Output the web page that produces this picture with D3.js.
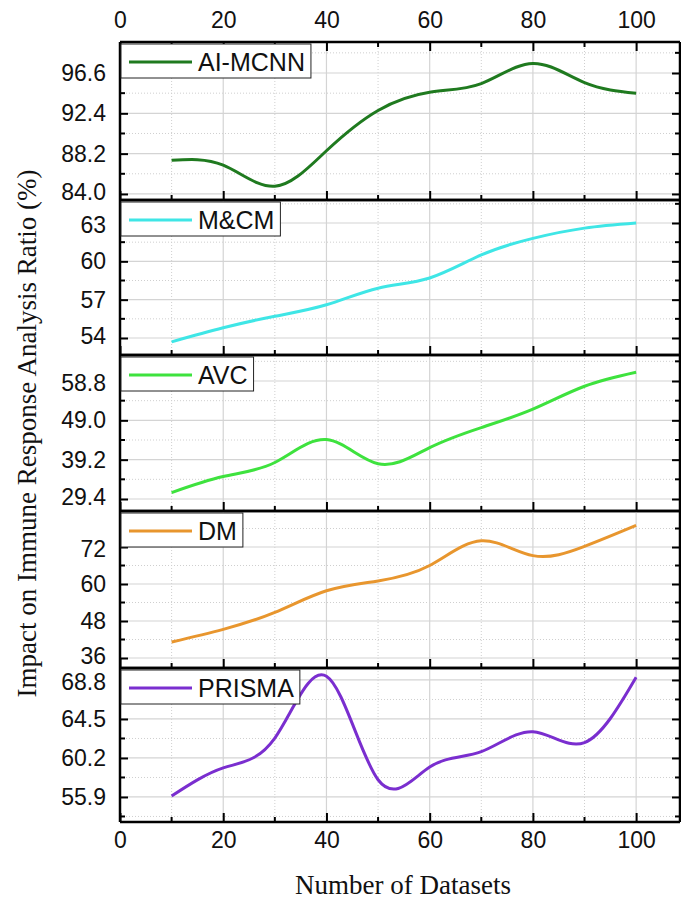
<!DOCTYPE html>
<html>
<head>
<meta charset="utf-8">
<script src="https://cdn.jsdelivr.net/npm/d3@7"></script>
<style>
  body { margin: 0; background: #fff; }
  svg { display: block; }
</style>
</head>
<body>
<svg id="chart" width="681" height="902"></svg>
<script>
// ---- Data ----
const xValues = [10, 20, 30, 40, 50, 60, 70, 80, 90, 100];
const seriesNames = ["AI-MCNN", "M&CM", "AVC", "DM", "PRISMA"];
const aiMcnn = [87.5, 87.0, 84.8, 88.5, 92.7, 94.6, 95.5, 97.6, 95.6, 94.5];
const mcm    = [53.7, 54.8, 55.7, 56.6, 57.9, 58.7, 60.5, 61.8, 62.6, 63.0];
const avc    = [31.0, 35.0, 38.5, 44.2, 38.2, 42.2, 47.2, 51.8, 57.5, 61.0];
const dm     = [41.2, 45.3, 50.8, 57.8, 61.0, 66.0, 74.0, 69.2, 72.2, 79.0];
const prisma = [56.0, 59.1, 62.4, 69.2, 57.8, 59.2, 60.9, 63.1, 61.9, 69.1];
const seriesValues = [aiMcnn, mcm, avc, dm, prisma];
const seriesColors = ["#1f7a1f", "#3fe6e6", "#3ee23e", "#e8962e", "#7a2ecf"];

const xTicks = [0, 20, 40, 60, 80, 100];
const xMinorTicks = [10, 30, 50, 70, 90];
const yTicks = [
  [84.0, 88.2, 92.4, 96.6],
  [54, 57, 60, 63],
  [29.4, 39.2, 49.0, 58.8],
  [36, 48, 60, 72],
  [55.9, 60.2, 64.5, 68.8]
];
const yTickLabels = [
  ["84.0", "88.2", "92.4", "96.6"],
  ["54", "57", "60", "63"],
  ["29.4", "39.2", "49.0", "58.8"],
  ["36", "48", "60", "72"],
  ["55.9", "60.2", "64.5", "68.8"]
];
const yMinorTicks = [
  [86.1, 90.3, 94.5, 98.7],
  [55.5, 58.5, 61.5, 64.5],
  [34.3, 44.1, 53.9, 63.7],
  [42, 54, 66, 78],
  [53.75, 58.05, 62.35, 66.65]
];
const yDomains = [
  [83.37, 99.83],
  [52.67, 64.8],
  [26.41, 65.28],
  [32.76, 83.68],
  [53.14, 70.12]
];
const xTitle = "Number of Datasets";
const yTitle = "Impact on Immune Response Analysis Ratio (%)";

// ---- Layout ----
const svg = d3.select("#chart");
const plotLeft = 120, plotRight = 680;
const panelEdges = [42, 200, 355, 511, 668, 822];
const x = d3.scaleLinear().domain([0, 108.5]).range([plotLeft, plotRight]);
const sansFont = "'Liberation Sans', Arial, sans-serif";
const serifFont = "'Liberation Serif', 'Times New Roman', serif";
const nPanels = seriesNames.length;

seriesNames.forEach((name, i) => {
  const y0 = panelEdges[i], y1 = panelEdges[i + 1];
  const y = d3.scaleLinear().domain(yDomains[i]).range([y1, y0]);
  const g = svg.append("g");
  const minors = yMinorTicks[i].filter(v => v > yDomains[i][0] && v < yDomains[i][1]);

  // minor grid (dotted)
  g.selectAll(".vminor").data(xMinorTicks).join("line")
    .attr("x1", d => x(d)).attr("x2", d => x(d)).attr("y1", y0).attr("y2", y1)
    .attr("stroke", "#cfcfcf").attr("stroke-width", 1).attr("stroke-dasharray", "1,2");
  g.selectAll(".hminor").data(minors).join("line")
    .attr("x1", plotLeft).attr("x2", plotRight).attr("y1", d => y(d)).attr("y2", d => y(d))
    .attr("stroke", "#cfcfcf").attr("stroke-width", 1).attr("stroke-dasharray", "1,2");
  // major grid
  g.selectAll(".vmajor").data(xTicks.filter(d => d > 0)).join("line")
    .attr("x1", d => x(d)).attr("x2", d => x(d)).attr("y1", y0).attr("y2", y1)
    .attr("stroke", "#d4d4d4").attr("stroke-width", 1.2);
  g.selectAll(".hmajor").data(yTicks[i]).join("line")
    .attr("x1", plotLeft).attr("x2", plotRight).attr("y1", d => y(d)).attr("y2", d => y(d))
    .attr("stroke", "#d4d4d4").attr("stroke-width", 1.2);

  // line
  const pts = xValues.map((xv, k) => [xv, seriesValues[i][k]]);
  g.append("path").datum(pts)
    .attr("fill", "none").attr("stroke", seriesColors[i]).attr("stroke-width", 3)
    .attr("d", d3.line().x(d => x(d[0])).y(d => y(d[1])).curve(d3.curveNatural));

  // left axis (inward ticks) with labels
  const yAxisL = d3.axisLeft(y).tickValues(yTicks[i]).tickFormat((d, k) => yTickLabels[i][k])
    .tickSize(-8).tickPadding(14);
  const axL = g.append("g").attr("transform", `translate(${plotLeft},0)`).call(yAxisL);
  axL.select(".domain").remove();
  axL.selectAll("line").attr("stroke", "#000").attr("stroke-width", 2);
  const labels = axL.selectAll("text").attr("font-family", sansFont).attr("font-size", 23).attr("fill", "#111");
  // nudge labels at panel joins apart so they do not collide
  const nL = yTicks[i].length;
  labels.each(function(d, k) {
    if (k === 0 && i < nPanels - 1) d3.select(this).attr("transform", "translate(0,-2)");
    if (k === nL - 1 && i > 0) d3.select(this).attr("transform", "translate(0,2)");
  });
  g.selectAll(".lminor").data(minors).join("line")
    .attr("x1", plotLeft).attr("x2", plotLeft + 5).attr("y1", d => y(d)).attr("y2", d => y(d))
    .attr("stroke", "#000").attr("stroke-width", 2);
  // right ticks
  const yAxisR = d3.axisRight(y).tickValues(yTicks[i]).tickSize(-8).tickFormat("");
  const axR = g.append("g").attr("transform", `translate(${plotRight},0)`).call(yAxisR);
  axR.select(".domain").remove();
  axR.selectAll("line").attr("stroke", "#000").attr("stroke-width", 2);
  g.selectAll(".rminor").data(minors).join("line")
    .attr("x1", plotRight).attr("x2", plotRight - 5).attr("y1", d => y(d)).attr("y2", d => y(d))
    .attr("stroke", "#000").attr("stroke-width", 2);

  // bottom inward ticks
  const xAxisB = d3.axisBottom(x).tickValues(xTicks).tickSize(-9).tickFormat("");
  const axB = g.append("g").attr("transform", `translate(0,${y1})`).call(xAxisB);
  axB.select(".domain").remove();
  axB.selectAll("line").attr("stroke", "#000").attr("stroke-width", 2);
  g.selectAll(".bminor").data(xMinorTicks).join("line")
    .attr("x1", d => x(d)).attr("x2", d => x(d)).attr("y1", y1).attr("y2", y1 - 5)
    .attr("stroke", "#000").attr("stroke-width", 2);

  if (i === 0) {
    const xAxisT = d3.axisTop(x).tickValues(xTicks).tickSize(-9).tickFormat("");
    const axT = g.append("g").attr("transform", `translate(0,${y0})`).call(xAxisT);
    axT.select(".domain").remove();
    axT.selectAll("line").attr("stroke", "#000").attr("stroke-width", 2);
    g.selectAll(".tminor").data(xMinorTicks).join("line")
      .attr("x1", d => x(d)).attr("x2", d => x(d)).attr("y1", y0).attr("y2", y0 + 5)
      .attr("stroke", "#000").attr("stroke-width", 2);
  }

  // frame
  g.append("line").attr("x1", plotLeft).attr("x2", plotLeft).attr("y1", y0).attr("y2", y1)
    .attr("stroke", "#000").attr("stroke-width", 2.5);
  g.append("line").attr("x1", plotRight).attr("x2", plotRight).attr("y1", y0).attr("y2", y1)
    .attr("stroke", "#000").attr("stroke-width", 2.5);
  g.append("line").attr("x1", plotLeft).attr("x2", plotRight).attr("y1", y0).attr("y2", y0)
    .attr("stroke", "#000").attr("stroke-width", 2.5);
  g.append("line").attr("x1", plotLeft).attr("x2", plotRight).attr("y1", y1).attr("y2", y1)
    .attr("stroke", "#000").attr("stroke-width", 2.5);

  // legend
  const lg = g.append("g").attr("transform", `translate(${plotLeft + 1},${y0 + 2})`);
  const box = lg.append("rect").attr("x", 0).attr("y", 0).attr("height", 34)
    .attr("fill", "#fff").attr("stroke", "#222").attr("stroke-width", 1);
  lg.append("line").attr("x1", 8).attr("x2", 71).attr("y1", 18).attr("y2", 18)
    .attr("stroke", seriesColors[i]).attr("stroke-width", 3);
  const t = lg.append("text").attr("x", 77).attr("y", 27).text(name)
    .attr("font-family", sansFont).attr("font-size", 25).attr("fill", "#111");
  const w = t.node().getComputedTextLength();
  box.attr("width", 77 + w + 6);
});

// top axis labels
const axisTopG = svg.append("g").attr("transform", `translate(0,${panelEdges[0]})`)
  .call(d3.axisTop(x).tickValues(xTicks).tickSize(0).tickPadding(14));
axisTopG.select(".domain").remove();
axisTopG.selectAll("text").attr("font-family", sansFont).attr("font-size", 23).attr("fill", "#111");

// bottom axis labels
const axisBotG = svg.append("g").attr("transform", `translate(0,${panelEdges[5]})`)
  .call(d3.axisBottom(x).tickValues(xTicks).tickSize(0).tickPadding(10));
axisBotG.select(".domain").remove();
axisBotG.selectAll("text").attr("font-family", sansFont).attr("font-size", 23).attr("fill", "#111");

// titles
svg.append("text").attr("x", 403).attr("y", 894).attr("text-anchor", "middle")
  .attr("font-family", serifFont).attr("font-size", 27).attr("fill", "#111").text(xTitle);
svg.append("text").attr("transform", `translate(36,${(150 + 717) / 2}) rotate(-90)`)
  .attr("text-anchor", "middle")
  .attr("font-family", serifFont).attr("font-size", 27).attr("fill", "#111").text(yTitle);
</script>
</body>
</html>
